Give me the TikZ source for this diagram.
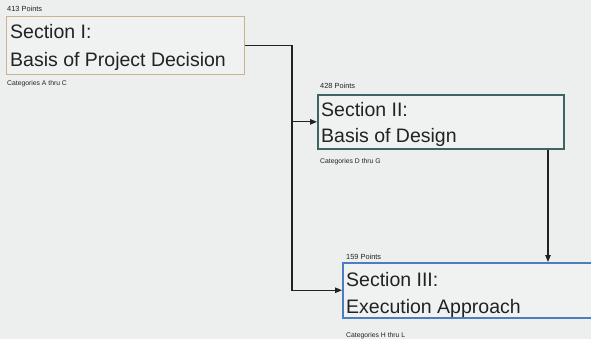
\documentclass[tikz,border=0pt]{standalone}
\usepackage{fontspec}
\setmainfont{Liberation Sans}
\usetikzlibrary{arrows.meta}
\definecolor{bgcol}{HTML}{EDEFEF}
\definecolor{boxfill}{HTML}{F0F2F2}
\definecolor{tanc}{HTML}{C8B38E}
\definecolor{tealc}{HTML}{3F6464}
\definecolor{bluec}{HTML}{4A7EC0}
\definecolor{txt}{HTML}{222222}
\tikzset{
  secbox/.style={draw=#1, line width=1.5pt, fill=boxfill, rectangle, anchor=north west, inner sep=0pt},
  bigtxt/.style={anchor=base west, inner sep=0pt, text=txt, font=\fontsize{19.5}{22}\selectfont},
  smalltxt/.style={anchor=base west, inner sep=0pt, text=txt, font=\fontsize{6.8}{8}\selectfont},
  pointtxt/.style={smalltxt, font=\fontsize{7.4}{8}\selectfont},
  conn/.style={draw=txt, line width=1.1pt},
  arr/.style={conn, -{Triangle[length=7pt,width=5.5pt]}}
}
\begin{document}
\begin{tikzpicture}[x=1pt,y=-1pt]
\fill[bgcol] (0,0) rectangle (591,339);
\useasboundingbox (0,0) rectangle (591,339);
% boxes
\node[secbox=tanc, line width=1.1pt, minimum width=238pt, minimum height=58pt] (b1) at (6,16) {};
\node[secbox=tealc, line width=1.7pt, minimum width=246pt, minimum height=54pt] (b2) at (317,94) {};
\node[secbox=bluec, minimum width=260pt, minimum height=55pt] (b3) at (342,262) {};
% texts box I
\node[pointtxt] (p1) at (7,12) {413 Points};
\node[bigtxt] (s1a) at (10,39) {Section I:};
\node[bigtxt] (s1b) at (10,67) {Basis of Project Decision};
\node[smalltxt] (c1) at (7,86) {Categories A thru C};
% texts box II
\node[pointtxt] (p2) at (320,89) {428 Points};
\node[bigtxt] (s2a) at (321,117) {Section II:};
\node[bigtxt] (s2b) at (321,143) {Basis of Design};
\node[smalltxt] (c2) at (320,164) {Categories D thru G};
% texts box III
\node[pointtxt] (p3) at (346,259) {159 Points};
\node[bigtxt] (s3a) at (346,286) {Section III:};
\node[bigtxt] (s3b) at (346,313) {Execution Approach};
\node[smalltxt] (c3) at (346,337) {Categories H thru L};
% connectors
\coordinate (jx) at (292,0);
\coordinate (kx) at (548,0);
\draw[arr] (b1.east) -- (b1.east -| jx) |- (b3.west);
\draw[arr] (b2.west -| jx) -- (b2.west);
\draw[arr] (b2.south -| kx) -- (b3.north -| kx);
\end{tikzpicture}
\end{document}
